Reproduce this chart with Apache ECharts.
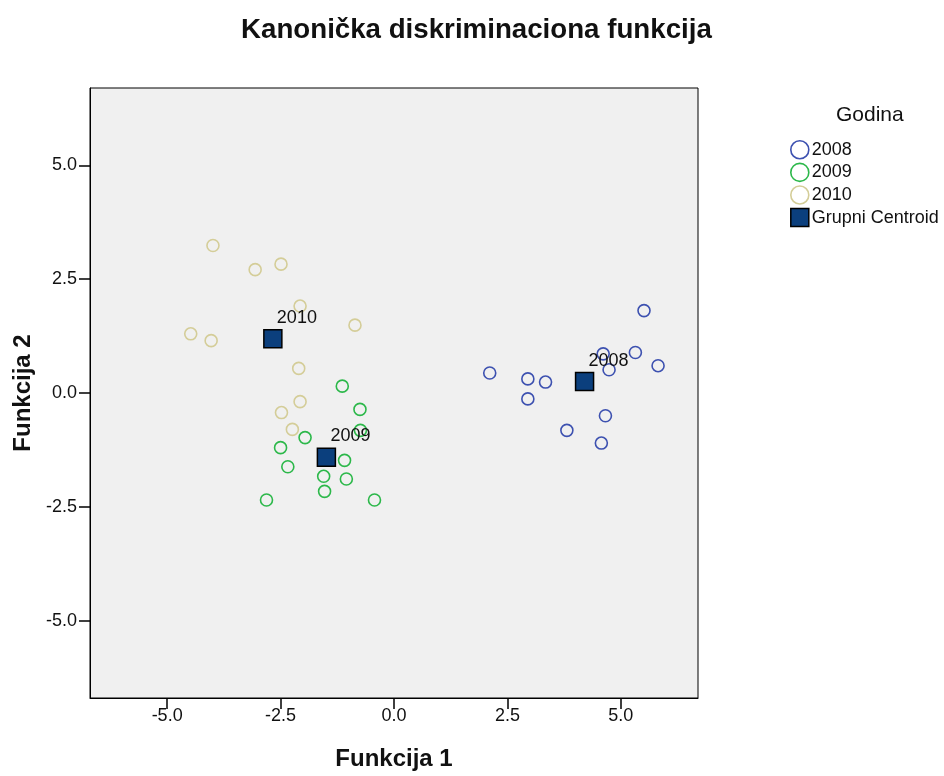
<!DOCTYPE html>
<html>
<head>
<meta charset="utf-8">
<script src="https://cdn.jsdelivr.net/npm/echarts@6/dist/echarts.min.js"></script>
<style>
  html, body { margin: 0; padding: 0; background: #fff; }
  #chart { width: 944px; height: 776px; }
</style>
</head>
<body>
<div id="chart"></div>
<script>
// discriminant scores, [funkcija 1, funkcija 2]
var pts2008 = [
  [5.51, 1.81], [5.32, 0.89], [4.61, 0.86], [4.74, 0.51], [5.82, 0.60],
  [2.11, 0.44], [2.95, 0.31], [3.34, 0.24], [2.95, -0.13], [4.66, -0.50],
  [3.81, -0.82], [4.57, -1.10]
];
var pts2009 = [
  [-1.14, 0.15], [-0.75, -0.36], [-0.74, -0.82], [-1.96, -0.98], [-2.50, -1.20],
  [-2.34, -1.62], [-1.09, -1.48], [-1.55, -1.83], [-1.05, -1.89], [-1.53, -2.16],
  [-2.81, -2.35], [-0.43, -2.35]
];
var pts2010 = [
  [-3.99, 3.24], [-3.06, 2.71], [-2.49, 2.83], [-2.07, 1.91], [-0.86, 1.49],
  [-4.48, 1.30], [-4.03, 1.15], [-2.10, 0.54], [-2.07, -0.19], [-2.48, -0.43],
  [-2.24, -0.80]
];
var centroidNames = ['2008', '2009', '2010'];
var centroids = [[4.20, 0.25], [-1.49, -1.41], [-2.67, 1.19]];
var tickValues = [-5, -2.5, 0, 2.5, 5];

var colors = { '2008': '#3d51b0', '2009': '#2cb84a', '2010': '#d4cd98' };
var centroidColor = '#0b3f7d';
var font = 'Liberation Sans';

var myChart = echarts.init(document.getElementById('chart'));

function ringSeries(name, data) {
  return {
    name: name,
    type: 'scatter',
    data: data,
    symbol: 'circle',
    symbolSize: 12,
    itemStyle: {
      color: 'rgba(0,0,0,0)',
      borderColor: colors[name],
      borderWidth: 1.6,
      opacity: 1
    },
    emphasis: { disabled: true }
  };
}

function axisOpt(name, labelMargin) {
  return {
    type: 'value',
    min: -6.7,
    max: 6.7,
    name: name,
    nameLocation: 'middle',
    nameGap: 49,
    nameTextStyle: { fontFamily: font, fontWeight: 'bold', fontSize: 24, color: '#111' },
    axisLine: { show: true, onZero: false, lineStyle: { color: '#000', width: 1 } },
    axisTick: { show: true, inside: false, length: 11, customValues: tickValues, lineStyle: { color: '#000', width: 1.5 } },
    axisLabel: {
      customValues: tickValues,
      fontFamily: font, fontSize: 18, color: '#111', margin: labelMargin,
      formatter: function (v) { return v.toFixed(1); }
    },
    splitLine: { show: false }
  };
}

var option = {
  backgroundColor: '#fff',
  animation: false,
  title: [
    {
      text: 'Kanonička diskriminaciona funkcija',
      left: 236, top: 11,
      textStyle: { fontFamily: font, fontWeight: 'bold', fontSize: 27.7, color: '#111' }
    },
    {
      text: 'Godina',
      left: 831, top: 100,
      textStyle: { fontFamily: font, fontWeight: 'normal', fontSize: 21, color: '#111' }
    }
  ],
  legend: {
    orient: 'vertical',
    left: 785, top: 135,
    itemWidth: 18, itemHeight: 18,
    itemGap: 3,
    textStyle: { fontFamily: font, fontSize: 18, lineHeight: 18, color: '#111', padding: [0, 0, 0, -2] },
    data: [
      { name: '2008', icon: 'circle', itemStyle: { color: 'rgba(0,0,0,0)', borderColor: colors['2008'], borderWidth: 1.6 } },
      { name: '2009', icon: 'circle', itemStyle: { color: 'rgba(0,0,0,0)', borderColor: colors['2009'], borderWidth: 1.6 } },
      { name: '2010', icon: 'circle', itemStyle: { color: 'rgba(0,0,0,0)', borderColor: colors['2010'], borderWidth: 1.6 } },
      { name: 'Grupni Centroid', icon: 'rect', itemStyle: { color: centroidColor, borderColor: '#000', borderWidth: 1.5 } }
    ]
  },
  grid: {
    left: 90, right: 246, top: 88, bottom: 76,
    show: true,
    backgroundColor: '#f0f0f0',
    borderColor: '#000',
    borderWidth: 1
  },
  xAxis: axisOpt('Funkcija 1', 9),
  yAxis: axisOpt('Funkcija 2', 13),
  series: [
    ringSeries('2008', pts2008),
    ringSeries('2009', pts2009),
    ringSeries('2010', pts2010),
    {
      name: 'Grupni Centroid',
      type: 'scatter',
      symbol: 'rect',
      symbolSize: 18,
      z: 5,
      data: centroids.map(function (c, i) { return { name: centroidNames[i], value: c }; }),
      itemStyle: { color: centroidColor, borderColor: '#000', borderWidth: 1.5, opacity: 1 },
      label: {
        show: true,
        position: 'top',
        distance: 2,
        align: 'left',
        offset: [4, 0],
        formatter: function (p) { return p.name; },
        fontFamily: font, fontSize: 18, color: '#111'
      },
      emphasis: { disabled: true }
    }
  ]
};

myChart.setOption(option);
</script>
</body>
</html>
